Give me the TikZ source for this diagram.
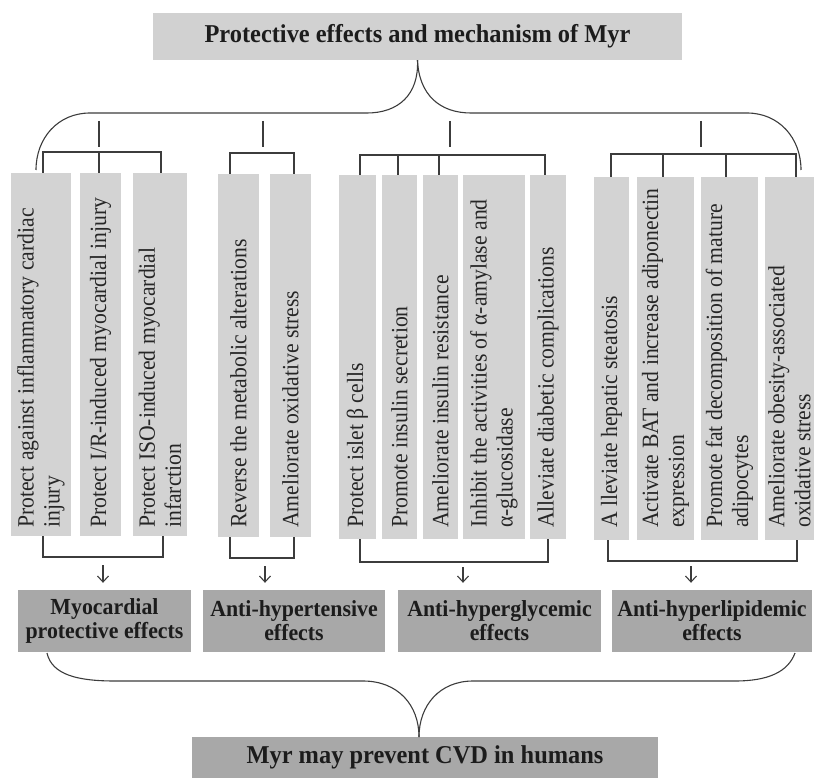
\documentclass[tikz,border=0pt]{standalone}
\usepackage{fontspec}
\setmainfont{Liberation Serif}
\newfontfamily\vfont{Liberation Serif}[FakeStretch=0.93]
\newfontfamily\bfont{Liberation Serif}[FakeStretch=0.95]
\usetikzlibrary{fit,arrows.meta,calc}
\definecolor{lightg}{RGB}{211,211,211}
\definecolor{topg}{RGB}{209,209,209}
\definecolor{darkg}{RGB}{168,168,168}
\definecolor{linec}{RGB}{60,60,60}
\definecolor{txtc}{RGB}{38,38,38}
\definecolor{boldc}{RGB}{28,28,28}
\newcommand\vbx[6]{%
  \node[vbox, fit={(#2,#4) (#3,#5)}] (#1) {};
  \node[vtxt] (#1t) at ({(#2+#3)/2},528) {#6};
}
\begin{document}
\begin{tikzpicture}[x=1pt, y=-1pt,
  vbox/.style={fill=lightg, draw=none, inner sep=0pt},
  vtxt/.style={rotate=90, anchor=west, align=left, inner sep=0pt, text=txtc,
    font=\vfont\fontsize{23.3}{26}\selectfont},
  rbox/.style={fill=darkg, draw=none, inner sep=0pt, align=center, text=boldc,
    minimum height=62pt, font=\bfont\fontsize{23}{24}\selectfont\bfseries},
  tbox/.style={draw=none, inner sep=0pt, text=boldc,
    font=\bfont\fontsize{25.7}{28}\selectfont\bfseries},
  conn/.style={draw=linec, line width=1.1pt},
  arr/.style={conn, -{Straight Barb[length=6pt,width=11pt]}, shorten >=7pt}]
\useasboundingbox (0,0) rectangle (814,778);

% top and bottom boxes
\node[tbox, fill=topg, minimum width=529pt, minimum height=47pt] (top) at (417.5,36.5) {Protective effects and mechanism of Myr};
\node[tbox, fill=darkg, minimum width=466pt, minimum height=41pt] (bot) at (425,757.5) {Myr may prevent CVD in humans};

% vertical boxes
\vbx{b1}{11}{71}{173}{536}{Protect against inflammatory cardiac\\injury}
\vbx{b2}{80}{121}{173}{536}{Protect I/R-induced myocardial injury}
\vbx{b3}{133}{187}{173}{536}{Protect ISO-induced myocardial\\infarction}
\vbx{b4}{218}{259}{174}{537}{Reverse the metabolic alterations}
\vbx{b5}{270}{311}{174}{537}{Ameliorate oxidative stress}
\vbx{b6}{339}{376}{175}{539}{Protect islet β cells}
\vbx{b7}{382}{417}{175}{539}{Promote insulin secretion}
\vbx{b8}{423}{458}{175}{539}{Ameliorate insulin resistance}
\vbx{b9}{463}{525}{175}{539}{Inhibit the activities of α-amylase and\\α-glucosidase}
\vbx{b10}{530}{566}{175}{539}{Alleviate diabetic complications}
\vbx{b11}{594}{629}{177}{540}{A lleviate hepatic steatosis}
\vbx{b12}{637}{694}{177}{540}{Activate BAT and increase adiponectin\\expression}
\vbx{b13}{701}{758}{177}{540}{Promote fat decomposition of mature\\adipocytes}
\vbx{b14}{765}{814}{177}{540}{Ameliorate obesity-associated\\oxidative stress}

% result boxes
\node[rbox, minimum width=173pt] (r1) at (104.5,621) {Myocardial\\protective effects};
\node[rbox, minimum width=182pt] (r2) at (294,621) {Anti-hypertensive\\effects};
\node[rbox, minimum width=203pt] (r3) at (499.5,621) {Anti-hyperglycemic\\effects};
\node[rbox, minimum width=200pt] (r4) at (712,621) {Anti-hyperlipidemic\\effects};

% top brace
\coordinate (tbL) at (36,170);
\coordinate (tbR) at (801,170);
\draw[conn] (top.south) .. controls (419,95) and (398,113) .. (367,113) -- (90,113)
  .. controls (58,113) and (36,138) .. (tbL);
\draw[conn] (top.south) .. controls (419,95) and (440,113) .. (471,113) -- (747,113)
  .. controls (779,113) and (801,138) .. (tbR);

% ticks
\foreach \x/\n in {99/1,263/2,450/3,701/4}{
  \coordinate (k\n a) at (\x,121);
  \coordinate (k\n b) at (\x,147);
  \draw[conn] (k\n a) -- (k\n b);
}

% top brackets
\coordinate (t1a) at (43,152); \coordinate (t1b) at (99,152); \coordinate (t1c) at (161,152);
\draw[conn] (t1a |- b1.north) -- (t1a) -- (t1c) -- (t1c |- b3.north);
\draw[conn] (t1b) -- (t1b |- b2.north);
\coordinate (t2a) at (230,153); \coordinate (t2b) at (294,153);
\draw[conn] (t2a |- b4.north) -- (t2a) -- (t2b) -- (t2b |- b5.north);
\coordinate (t3a) at (360,155); \coordinate (t3b) at (398,155); \coordinate (t3c) at (439,155); \coordinate (t3d) at (545,155);
\draw[conn] (t3a |- b6.north) -- (t3a) -- (t3d) -- (t3d |- b10.north);
\draw[conn] (t3b) -- (t3b |- b7.north);
\draw[conn] (t3c) -- (t3c |- b8.north);
\coordinate (t4a) at (611,154); \coordinate (t4b) at (663,154); \coordinate (t4c) at (726,154); \coordinate (t4d) at (796,154);
\draw[conn] (t4a |- b11.north) -- (t4a) -- (t4d) -- (t4d |- b14.north);
\draw[conn] (t4b) -- (t4b |- b12.north);
\draw[conn] (t4c) -- (t4c |- b13.north);

% bottom brackets
\coordinate (u1a) at (43,557); \coordinate (u1b) at (163,557);
\draw[conn] (u1a |- b1.south) -- (u1a) -- (u1b) -- (u1b |- b3.south);
\coordinate (u2a) at (230,558); \coordinate (u2b) at (294,558);
\draw[conn] (u2a |- b4.south) -- (u2a) -- (u2b) -- (u2b |- b5.south);
\coordinate (u3a) at (360,562); \coordinate (u3b) at (548,562);
\draw[conn] (u3a |- b6.south) -- (u3a) -- (u3b) -- (u3b |- b10.south);
\coordinate (u4a) at (608,561); \coordinate (u4b) at (797,561);
\draw[conn] (u4a |- b11.south) -- (u4a) -- (u4b) -- (u4b |- b14.south);

% arrows
\coordinate (a1) at (103,565);
\coordinate (a2) at (265,566);
\coordinate (a3) at (463,567);
\coordinate (a4) at (691,566);
\draw[arr] (a1) -- (a1 |- r1.north);
\draw[arr] (a2) -- (a2 |- r2.north);
\draw[arr] (a3) -- (a3 |- r3.north);
\draw[arr] (a4) -- (a4 |- r4.north);

% bottom brace
\coordinate (bbL) at (47,653);
\coordinate (bbR) at (795,653);
\coordinate (bbT) at (419,737);
\draw[conn] (bbL) .. controls (52,675) and (78,681) .. (115,681) -- (363,681)
  .. controls (398,681) and (419,705) .. (bbT);
\draw[conn] (bbR) .. controls (788,672) and (768,681) .. (735,681) -- (473,681)
  .. controls (440,681) and (419,705) .. (bbT);
\end{tikzpicture}
\end{document}
